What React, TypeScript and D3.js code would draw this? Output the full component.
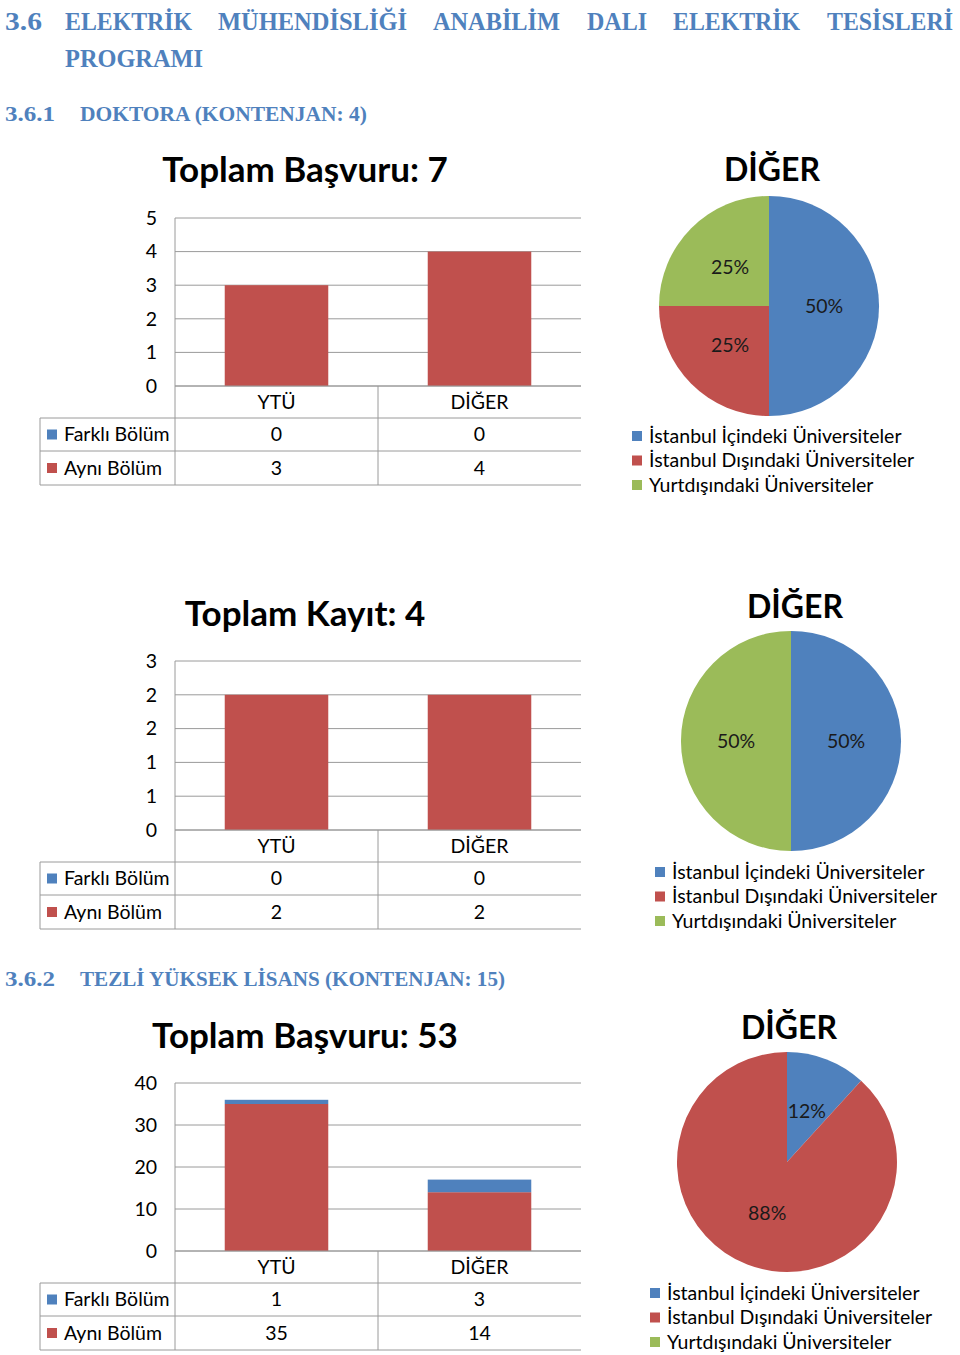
import * as d3 from 'd3'

// categories + series
const categories = ['YTÜ', 'DİĞER']
const seriesNames = ['Farklı Bölüm', 'Aynı Bölüm']
const seriesColors = ['#4f81bd', '#c0504d']

const dokBasvuruFarkli = [0, 0]
const dokBasvuruAyni = [3, 4]
const dokBasvuruTicks = [0, 1, 2, 3, 4, 5]
const dokBasvuruTickLabels = ['0', '1', '2', '3', '4', '5']

const dokKayitFarkli = [0, 0]
const dokKayitAyni = [2, 2]
const dokKayitTicks = [0, 0.5, 1, 1.5, 2, 2.5]
const dokKayitTickLabels = ['0', '1', '1', '2', '2', '3']

const ylBasvuruFarkli = [1, 3]
const ylBasvuruAyni = [35, 14]
const ylBasvuruTicks = [0, 10, 20, 30, 40]
const ylBasvuruTickLabels = ['0', '10', '20', '30', '40']

// pie: DİĞER breakdown
const pieNames = ['İstanbul İçindeki Üniversiteler', 'İstanbul Dışındaki Üniversiteler', 'Yurtdışındaki Üniversiteler']
const pieColors = ['#4f81bd', '#c0504d', '#9bbb59']
const dokBasvuruDiger = [2, 1, 1]
const dokKayitDiger = [1, 0, 1]
const ylBasvuruDiger = [2, 15, 0]

const FONT = 'Lato, "Open Sans", sans-serif'
const HEAD = '"Liberation Serif", serif'
const HEAD_COLOR = '#4f81bd'
const GRID = '#9a9a9a'
const FS = 19.5

type BarProps = {
  title: string
  titleY: number
  top: number
  zero: number
  max: number
  ticks: number[]
  tickLabels: string[]
  farkli: number[]
  ayni: number[]
}

function BarTable({ title, titleY, top, zero, max, ticks, tickLabels, farkli, ayni }: BarProps) {
  const left = 175, right = 581, tableLeft = 40, rowH = 33
  const x = d3.scaleBand().domain(categories).range([left, right]).padding(0)
  const y = d3.scaleLinear().domain([0, max]).range([zero, top])
  const barW = x.bandwidth() * 0.51
  const rows = [zero + rowH - 1, zero + 2 * rowH - 1, zero + 3 * rowH]
  const series = [farkli, ayni]
  return (
    <g fontFamily={FONT}>
      <text x={305} y={titleY} textAnchor="middle" fontSize={35} fontWeight={700} fill="#000">{title}</text>
      {ticks.map((t, i) => (
        <g key={i}>
          <line x1={left} x2={right} y1={y(t)} y2={y(t)} stroke={GRID} />
          <text x={157} y={y(t)} dy="0.35em" textAnchor="end" fontSize={FS} fill="#000">{tickLabels[i]}</text>
        </g>
      ))}
      {categories.map((c, i) => {
        const cx = x(c)! + x.bandwidth() / 2
        return (
          <g key={c}>
            <rect x={cx - barW / 2} width={barW} y={y(ayni[i])} height={zero - y(ayni[i])} fill={seriesColors[1]} />
            <rect x={cx - barW / 2} width={barW} y={y(ayni[i] + farkli[i])} height={y(ayni[i]) - y(ayni[i] + farkli[i])} fill={seriesColors[0]} />
          </g>
        )
      })}
      {/* table */}
      <line x1={left} x2={left} y1={top} y2={rows[2]} stroke={GRID} />
      <line x1={x(categories[1])!} x2={x(categories[1])!} y1={zero} y2={rows[2]} stroke={GRID} />
      <line x1={left} x2={right} y1={zero} y2={zero} stroke={GRID} />
      {rows.map((r, i) => <line key={i} x1={tableLeft} x2={right} y1={r} y2={r} stroke={GRID} />)}
      <line x1={tableLeft} x2={tableLeft} y1={rows[0]} y2={rows[2]} stroke={GRID} />
      {categories.map(c => (
        <text key={c} x={x(c)! + x.bandwidth() / 2} y={(zero + rows[0]) / 2} dy="0.35em" textAnchor="middle" fontSize={FS} fill="#000">{c}</text>
      ))}
      {seriesNames.map((s, si) => {
        const cy = (rows[si] + rows[si + 1]) / 2
        return (
          <g key={s}>
            <rect x={47} y={cy - 5} width={10} height={10} fill={seriesColors[si]} />
            <text x={64} y={cy} dy="0.35em" fontSize={FS} fill="#000">{s}</text>
            {categories.map((c, i) => (
              <text key={c} x={x(c)! + x.bandwidth() / 2} y={cy} dy="0.35em" textAnchor="middle" fontSize={FS} fill="#000">{series[si][i]}</text>
            ))}
          </g>
        )
      })}
    </g>
  )
}

type PieProps = { cx: number; cy: number; titleX: number; titleY: number; values: number[]; legendX: number; legendY: number }

function Pie({ cx, cy, titleX, titleY, values, legendX, legendY }: PieProps) {
  const r = 110
  const total = d3.sum(values)
  const arcs = d3.pie<number>().sort(null).value(d => d)(values)
  const arc = d3.arc<d3.PieArcDatum<number>>().innerRadius(0).outerRadius(r)
  return (
    <g fontFamily={FONT}>
      <text x={titleX} y={titleY} textAnchor="middle" fontSize={32} fontWeight={700} fill="#000">DİĞER</text>
      <g transform={`translate(${cx},${cy})`}>
        {arcs.map((a, i) => a.value > 0 && <path key={i} d={arc(a)!} fill={pieColors[i]} />)}
        {arcs.map((a, i) => {
          if (a.value <= 0) return null
          const [lx, ly] = arc.centroid(a)
          return <text key={'l' + i} x={lx} y={ly} dy="0.35em" textAnchor="middle" fontSize={FS} fill="#1a1a1a">{`${Math.round((a.value / total) * 100)}%`}</text>
        })}
      </g>
      {pieNames.map((n, i) => (
        <g key={n}>
          <rect x={legendX} y={legendY + i * 24.5 - 5} width={10} height={10} fill={pieColors[i]} />
          <text x={legendX + 17} y={legendY + i * 24.5} dy="0.35em" fontSize={FS} fill="#000">{n}</text>
        </g>
      ))}
    </g>
  )
}

// heading words: [text, x, length, anchor]
const headWords: [string, number, number, 'start' | 'end'][] = [
  ['3.6', 5, 37, 'start'], ['ELEKTRİK', 65, 127, 'start'], ['MÜHENDİSLİĞİ', 218, 189, 'start'], ['ANABİLİM', 433, 127, 'start'],
  ['DALI', 587, 60, 'start'], ['ELEKTRİK', 673, 127, 'start'], ['TESİSLERİ', 953, 126, 'end'],
]

export default function App() {
  return (
    <div style={{ position: 'absolute', left: 0, top: 0, background: '#fff' }}>
      <svg width={960} height={1355} style={{ display: 'block' }}>
        <rect width={960} height={1355} fill="#fff" />
        <g fontFamily={HEAD} fontWeight={700} fill={HEAD_COLOR}>
          {headWords.map(([w, x, len, anchor], i) => (
            <text key={i} x={x} y={30} fontSize={25} textAnchor={anchor} textLength={len} lengthAdjust="spacingAndGlyphs">{w}</text>
          ))}
          <text x={65} y={67} fontSize={25} textLength={138} lengthAdjust="spacingAndGlyphs">PROGRAMI</text>
          <text x={5} y={121} fontSize={21} textLength={50} lengthAdjust="spacingAndGlyphs">3.6.1</text>
          <text x={80} y={121} fontSize={21} textLength={287} lengthAdjust="spacingAndGlyphs">DOKTORA (KONTENJAN: 4)</text>
          <text x={5} y={986} fontSize={21} textLength={50} lengthAdjust="spacingAndGlyphs">3.6.2</text>
          <text x={80} y={986} fontSize={21} textLength={425} lengthAdjust="spacingAndGlyphs">TEZLİ YÜKSEK LİSANS (KONTENJAN: 15)</text>
        </g>

        <BarTable title="Toplam Başvuru: 7" titleY={182} top={218} zero={386} max={5}
          ticks={dokBasvuruTicks} tickLabels={dokBasvuruTickLabels} farkli={dokBasvuruFarkli} ayni={dokBasvuruAyni} />
        <Pie cx={769} cy={306} titleX={772} titleY={181} values={dokBasvuruDiger} legendX={632} legendY={436} />

        <BarTable title="Toplam Kayıt: 4" titleY={626} top={661} zero={830} max={2.5}
          ticks={dokKayitTicks} tickLabels={dokKayitTickLabels} farkli={dokKayitFarkli} ayni={dokKayitAyni} />
        <Pie cx={791} cy={741} titleX={795} titleY={618} values={dokKayitDiger} legendX={655} legendY={872} />

        <BarTable title="Toplam Başvuru: 53" titleY={1048} top={1083} zero={1251} max={40}
          ticks={ylBasvuruTicks} tickLabels={ylBasvuruTickLabels} farkli={ylBasvuruFarkli} ayni={ylBasvuruAyni} />
        <Pie cx={787} cy={1162} titleX={789} titleY={1039} values={ylBasvuruDiger} legendX={650} legendY={1293} />
      </svg>
    </div>
  )
}
